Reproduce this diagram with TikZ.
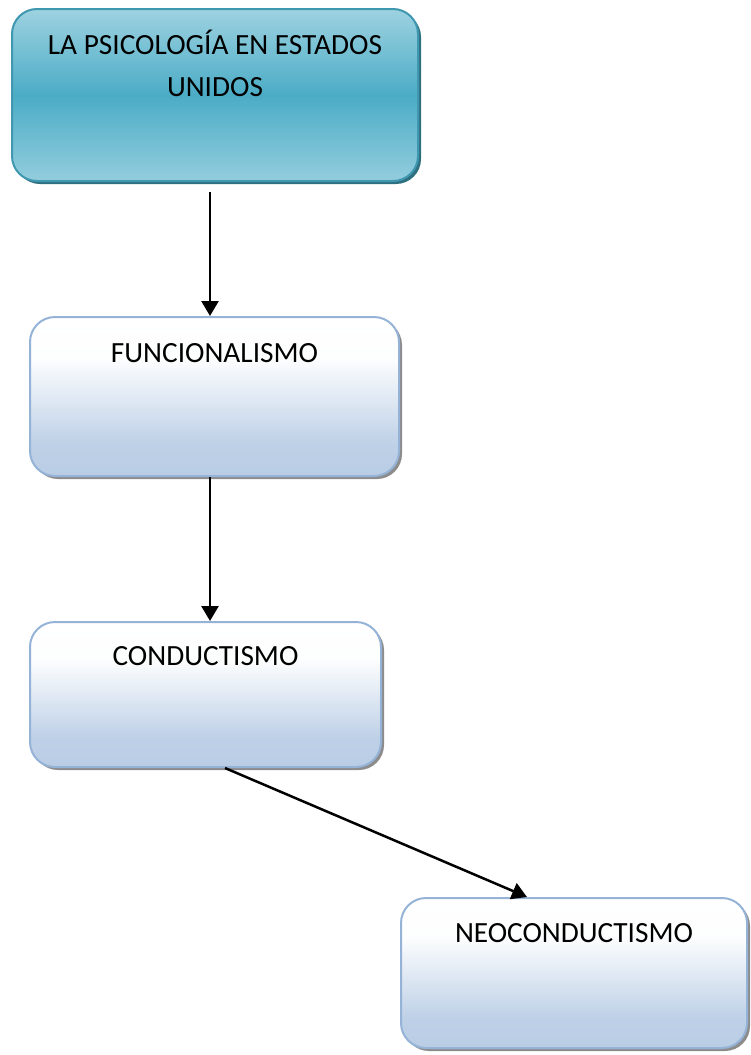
\documentclass[tikz,border=0pt]{standalone}
\usepackage{fontspec}
\setmainfont{Carlito}
\usetikzlibrary{arrows.meta,shadows}
\definecolor{tealmid}{HTML}{4BACC6}
\definecolor{teallight}{HTML}{93CDDD}
\definecolor{tealborder}{HTML}{3F97B0}
\definecolor{tealshadow}{HTML}{2E6F80}
\definecolor{bluebot}{HTML}{B9CDE5}
\definecolor{blueborder}{HTML}{95B3D7}
\pgfdeclareverticalshading{blueshade}{100bp}{color(0bp)=(bluebot); color(25bp)=(bluebot); color(35bp)=(bluebot!93!white); color(62bp)=(white!97!bluebot); color(75bp)=(white); color(100bp)=(white)}
\pgfdeclareverticalshading{tealshade}{100bp}{color(0bp)=(teallight); color(25bp)=(teallight); color(50bp)=(tealmid); color(75bp)=(teallight!90!white); color(100bp)=(teallight!90!white)}
\begin{document}
\begin{tikzpicture}[x=1pt,y=1pt,
  box/.style={rounded corners=25pt, line width=2pt, inner sep=0pt, shade},
  bluebox/.style={box, draw=blueborder, shading=blueshade,
    drop shadow={shadow xshift=3pt, shadow yshift=-3pt, fill=black!50, opacity=0.9}},
  tealbox/.style={box, draw=tealborder, shading=tealshade,
    drop shadow={shadow xshift=3pt, shadow yshift=-3pt, fill=tealshadow, opacity=1}},
  lbl/.style={anchor=base, font=\fontsize{29.3}{35}\selectfont, inner sep=0pt},
  arr/.style={-{Triangle[length=15pt,width=17pt]}, line width=2.5pt}]
\useasboundingbox (0,0) rectangle (750,-1055);
\node[tealbox, minimum width=406pt, minimum height=172pt] (top) at (215,-95) {};
\node[lbl] (t1) at ([yshift=-46pt]top.north) {LA PSICOLOGÍA EN ESTADOS};
\node[lbl] (t2) at ([yshift=-88pt]top.north) {UNIDOS};
\node[bluebox, minimum width=369pt, minimum height=159pt] (f) at (214.5,-396.5) {};
\node[lbl] (ft) at ([yshift=-46pt]f.north) {FUNCIONALISMO};
\node[bluebox, minimum width=351pt, minimum height=145pt] (c) at (205.5,-694.5) {};
\node[lbl] (ct) at ([yshift=-44pt]c.north) {CONDUCTISMO};
\node[bluebox, minimum width=346pt, minimum height=150pt] (n) at (574,-973) {};
\node[lbl] (nt) at ([yshift=-45pt]n.north) {NEOCONDUCTISMO};
\draw[arr] ([xshift=-5pt,yshift=-10pt]top.south) -- ([xshift=-4.5pt]f.north);
\draw[arr] ([xshift=-4.5pt]f.south) -- ([xshift=4.5pt]c.north);
\draw[arr] ([xshift=19.5pt]c.south) -- ([xshift=-47pt]n.north);
\end{tikzpicture}
\end{document}
